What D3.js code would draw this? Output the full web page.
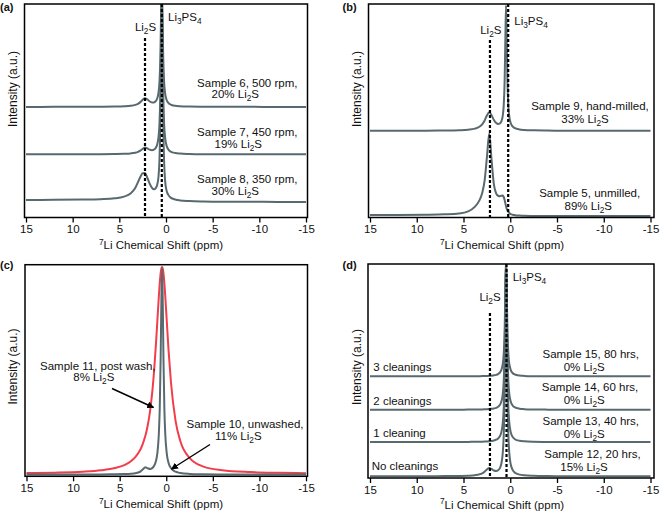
<!DOCTYPE html>
<html><head><meta charset="utf-8">
<script src="https://cdn.jsdelivr.net/npm/d3@7"></script>
<style>
body{margin:0;background:#fff;}
svg{display:block;font-family:"Liberation Sans",Arial,Helvetica,sans-serif;}
</style></head><body>
<svg id="chart" width="661" height="518"></svg>
<script>
// ---- DATA (chemical shift grid, ppm) ----
const ppm = [15,12,9,7,5.5,4.5,3.8,3.3,3.0,2.75,2.5,2.25,2.0,1.75,1.5,1.3,1.1,0.95,0.8,0.7,0.6,0.52,0.45,0.38,0.3,0.2,0.1,-0.05,-0.25,-0.5,-1,-1.5,-2.5,-4,-6,-9,-12,-15];
const xTicks = [15,10,5,0,-5,-10,-15];

// panel (a)
const sample6 = [51.81,51.82,51.84,51.87,51.94,52.07,52.3,52.73,53.26,54.04,55.15,55.86,55.31,54.39,53.9,53.92,54.49,55.65,58.58,63.45,75.58,96.91,112.1,96.86,75.48,63.28,58.33,55.28,53.7,52.89,52.32,52.11,51.95,51.87,51.83,51.82,51.81,51.8];
const sample7 = [29.61,29.62,29.63,29.66,29.72,29.83,30.01,30.34,30.75,31.33,32.18,32.73,32.37,31.77,31.55,31.76,32.6,34.12,37.83,43.94,59.13,85.81,104.84,85.77,59.06,43.82,37.65,33.84,31.88,30.89,30.19,29.95,29.77,29.67,29.64,29.62,29.61,29.61];
const sample8 = [8.2,8.3,8.4,8.6,9.0,9.8,11.2,13.8,16.6,19.0,20.7,20.8,18.6,15.9,13.9,13.2,13.8,15.2,19.3,27,46,79,103,79,45,26,17.5,12.8,10.6,9.3,8.4,8.0,7.7,7.5,7.4,7.4,7.3,7.3];
// panel (b)
const sample9 = [40.62,40.63,40.67,40.73,40.87,41.13,41.62,42.51,43.67,45.36,47.76,49.26,47.91,45.69,44.29,43.84,44.08,45.04,47.75,52.39,64.06,84.64,99.32,84.54,63.84,52.01,47.21,44.22,42.65,41.83,41.23,41.0,40.81,40.71,40.65,40.63,40.62,40.61];
const sample5 = [1.2,1.2,1.3,1.5,1.9,2.9,5.0,8.0,11.5,17,28,39.3,27,15.5,11.2,10.2,10.0,10.2,10.3,9.6,8.2,6.6,5.2,4.1,3.3,2.6,2.1,1.6,1.3,1.1,0.9,0.8,0.75,0.7,0.7,0.7,0.7,0.7];
// panel (c)
const sample11 = [1.53,1.73,2.16,2.82,3.9,5.3,7.1,9.2,11.0,12.9,15.6,19.0,23.8,30.5,39.9,50.1,62.8,73.8,84.7,91.1,96.0,98.2,98.9,98.2,96.0,91.1,84.7,73.8,59.4,44.7,26.2,16.8,8.7,4.6,2.9,2.0,1.65,1.5];
const sample10 = [0.81,0.82,0.85,0.89,0.95,1.06,1.21,1.48,1.8,2.34,3.33,4.26,3.83,3.45,3.87,4.95,7.33,11.1,19.6,31.8,55.8,84.3,98.5,84.3,55.8,31.7,19.5,11.0,6.3,3.9,2.17,1.56,1.14,0.95,0.87,0.83,0.82,0.81];
// panel (d)
const sample15 = [47.51,47.51,47.51,47.52,47.53,47.55,47.57,47.6,47.62,47.65,47.69,47.74,47.83,47.97,48.21,48.57,49.32,50.5,53.28,57.79,68.95,88.53,102.5,88.53,68.95,57.79,53.28,50.5,49.07,48.36,47.87,47.71,47.59,47.54,47.52,47.51,47.51,47.51];
const sample14 = [31.91,31.91,31.91,31.92,31.94,31.96,31.99,32.03,32.05,32.09,32.14,32.21,32.32,32.5,32.8,33.27,34.21,35.72,39.25,44.99,59.2,84.12,101.9,84.12,59.2,44.99,39.25,35.72,33.9,33.0,32.38,32.17,32.02,31.95,31.92,31.91,31.91,31.91];
const sample13 = [16.81,16.81,16.82,16.83,16.85,16.88,16.91,16.95,16.99,17.03,17.09,17.17,17.31,17.52,17.9,18.46,19.61,21.43,25.73,32.7,49.95,80.21,101.8,80.21,49.95,32.7,25.73,21.43,19.23,18.13,17.38,17.12,16.94,16.86,16.83,16.82,16.81,16.81];
const sample12 = [0.82,0.82,0.84,0.88,0.96,1.08,1.31,1.71,2.21,2.93,3.96,4.64,4.22,3.51,3.28,3.6,4.73,6.77,11.73,19.88,40.14,75.71,101.1,75.67,40.05,19.73,11.51,6.43,3.82,2.5,1.58,1.25,1.02,0.9,0.85,0.83,0.82,0.81];

// reference peak positions (ppm) per panel: [Li2S, Li3PS4]
const refA = [2.25, 0.45];
const refB = [2.17, 0.22];
const refD = [2.17, 0.40];

// label texts
const labelsA = ["Sample 6, 500 rpm,", "20% Li_2S", "Sample 7, 450 rpm,", "19% Li_2S", "Sample 8, 350 rpm,", "30% Li_2S"];
const labelsB = ["Sample 9, hand-milled,", "33% Li_2S", "Sample 5, unmilled,", "89% Li_2S"];
const labelsC = ["Sample 11, post wash,", "8% Li_2S", "Sample 10, unwashed,", "11% Li_2S"];
const labelsD = ["Sample 15, 80 hrs,", "0% Li_2S", "Sample 14, 60 hrs,", "0% Li_2S", "Sample 13, 40 hrs,", "0% Li_2S", "Sample 12, 20 hrs,", "15% Li_2S"];
const cleaningsD = ["3 cleanings", "2 cleanings", "1 cleaning", "No cleanings"];

// ---- DRAWING ----
const GRAY = "#586a6f", RED = "#f23d4b";
const svg = d3.select("#chart");
const defs = svg.append("defs");
defs.append("marker").attr("id","arrow").attr("viewBox","0 0 10 10").attr("refX",9).attr("refY",5)
  .attr("markerWidth",7).attr("markerHeight",7).attr("orient","auto").attr("markerUnits","userSpaceOnUse")
  .append("path").attr("d","M0,0 L10,5 L0,10 z").attr("fill","#000");

function rich(text, str) {
  const parts = str.split(/([_^].)/).filter(s => s.length);
  let offset = 0;
  parts.forEach(s => {
    let target = 0, t = s, fs = null;
    if (s[0] === "_" && s.length === 2) { target = 3; t = s[1]; fs = "0.72em"; }
    else if (s[0] === "^" && s.length === 2) { target = -4.5; t = s[1]; fs = "0.72em"; }
    const ts = text.append("tspan").text(t).attr("dy", target - offset);
    if (fs) ts.style("font-size", fs);
    offset = target;
  });
  return text;
}
function label(g, x, y, str, anchor, size, weight) {
  const t = g.append("text").attr("x", x).attr("y", y).attr("text-anchor", anchor || "middle")
    .style("font-size", (size || 11.5) + "px").attr("fill", "#111");
  if (weight) t.style("font-weight", weight);
  return rich(t, str);
}

function panel(p) {
  const g = svg.append("g");
  const [bx0, by0, bx1, by1] = p.box;
  const x = d3.scaleLinear().domain([15, -15]).range(p.xr);
  const y = d3.scaleLinear().domain([0, 100]).range([by1, by0]);
  const cid = "clip" + p.id;
  defs.append("clipPath").attr("id", cid).append("rect")
    .attr("x", bx0).attr("y", by0).attr("width", bx1 - bx0).attr("height", by1 - by0);
  const line = d3.line().x((d, i) => x(ppm[i])).y(d => y(d)).curve(d3.curveMonotoneX);
  const cg = g.append("g").attr("clip-path", `url(#${cid})`);
  p.series.forEach(s => {
    cg.append("path").attr("d", line(s.values)).attr("fill", "none")
      .attr("stroke", s.color).attr("stroke-width", 2).attr("stroke-linejoin", "round");
  });
  if (p.refs) {
    p.refs.forEach((r, i) => {
      g.append("line").attr("x1", x(r)).attr("x2", x(r)).attr("y1", i === 0 ? p.li2sTop : by0).attr("y2", by1)
        .attr("stroke", "#000").attr("stroke-width", 2.2).attr("stroke-dasharray", "3,2");
    });
  }
  g.append("rect").attr("x", bx0).attr("y", by0).attr("width", bx1 - bx0).attr("height", by1 - by0)
    .attr("fill", "none").attr("stroke", "#000").attr("stroke-width", 1.5);
  const ax = g.append("g").attr("transform", `translate(0,${by1})`)
    .call(d3.axisBottom(x).tickValues(xTicks).tickSize(5).tickPadding(2.5).tickFormat(d => String(d)));
  ax.select(".domain").remove();
  ax.selectAll(".tick line").attr("stroke", "#000").attr("stroke-width", 1.3);
  ax.selectAll(".tick text").attr("fill", "#111").style("font-size", "11.5px").style("font-family", "inherit");
  label(g, p.xlab[0], p.xlab[1], "^7Li Chemical Shift (ppm)", "middle", 11.5);
  g.append("text").attr("transform", `translate(${p.ylab[0]},${p.ylab[1]}) rotate(-90)`)
    .attr("text-anchor", "middle").style("font-size", "12px").attr("fill", "#111").text("Intensity (a.u.)");
  label(g, p.tag[0], p.tag[1], `(${p.id})`, "start", 11, "bold");
  return { g, x, y };
}

// (a)
const A = panel({ id: "a", box: [24.5, 4, 307.5, 217.5], xr: [26, 306],
  series: [{ values: sample6, color: GRAY }, { values: sample7, color: GRAY }, { values: sample8, color: GRAY }],
  refs: refA, li2sTop: 38, xlab: [161, 249], ylab: [16.5, 89], tag: [0, 10.5] });
label(A.g, 145.5, 31, "Li_2S", "middle");
label(A.g, 168, 21, "Li_3PS_4", "start");
[[247.3, 86.5], [235.3, 97.5], [247.3, 135.5], [238.3, 147.5], [247.3, 182.7], [235.3, 195]]
  .forEach((pos, i) => label(A.g, pos[0], pos[1], labelsA[i], "middle"));

// (b)
const B = panel({ id: "b", box: [368.5, 4, 654, 217.5], xr: [370, 650.5],
  series: [{ values: sample9, color: GRAY }, { values: sample5, color: GRAY }],
  refs: refB, li2sTop: 40, xlab: [502, 249], ylab: [361, 89], tag: [342.5, 10.5] });
label(B.g, 490.8, 34.3, "Li_2S", "middle");
label(B.g, 514.3, 25, "Li_3PS_4", "start");
[[590, 110], [585, 122.5], [589.7, 196.5], [588.3, 210]]
  .forEach((pos, i) => label(B.g, pos[0], pos[1], labelsB[i], "middle"));

// (c)
const C = panel({ id: "c", box: [25, 264.7, 307.5, 476.3], xr: [26.5, 306],
  series: [{ values: sample11, color: RED }, { values: sample10, color: GRAY }],
  xlab: [161, 508], ylab: [16.5, 366.5], tag: [0, 268.5] });
[[97.8, 369.7], [93.8, 381], [245, 428], [238.3, 439.7]]
  .forEach((pos, i) => label(C.g, pos[0], pos[1], labelsC[i], "middle"));
C.g.append("line").attr("x1", 112).attr("y1", 388.5).attr("x2", 153.5).attr("y2", 407.5)
  .attr("stroke", "#000").attr("stroke-width", 1.4).attr("marker-end", "url(#arrow)");
C.g.append("line").attr("x1", 210).attr("y1", 444.5).attr("x2", 171.5).attr("y2", 469)
  .attr("stroke", "#000").attr("stroke-width", 1.4).attr("marker-end", "url(#arrow)");

// (d)
const D = panel({ id: "d", box: [368, 264, 654, 478], xr: [370, 650.5],
  series: [{ values: sample15, color: GRAY }, { values: sample14, color: GRAY }, { values: sample13, color: GRAY }, { values: sample12, color: GRAY }],
  refs: refD, li2sTop: 313, xlab: [502, 508.7], ylab: [361, 367], tag: [342.5, 269] });
label(D.g, 490, 301.3, "Li_2S", "middle");
label(D.g, 512.7, 280.7, "Li_3PS_4", "start");
[[590.8, 358], [584.2, 370.7], [590, 390.7], [584.2, 404], [590.8, 424.7], [584.2, 438], [592.5, 457.7], [584, 471]]
  .forEach((pos, i) => label(D.g, pos[0], pos[1], labelsD[i], "middle"));
[[373.3, 371], [373.3, 404.5], [373.3, 437], [371.7, 469.5]]
  .forEach((pos, i) => label(D.g, pos[0], pos[1], cleaningsD[i], "start"));
</script>
</body></html>
